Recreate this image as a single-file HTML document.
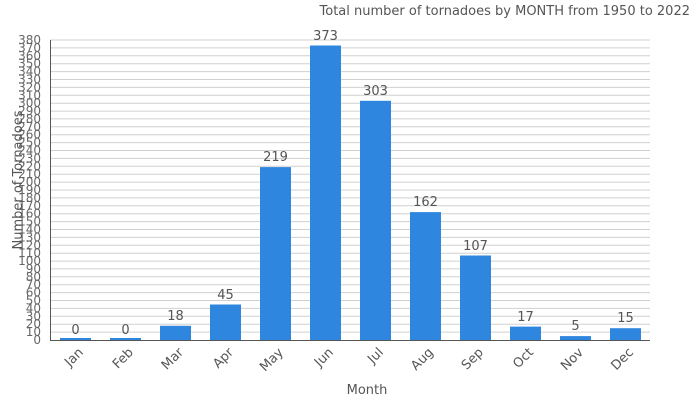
<!DOCTYPE html>
<html><head><meta charset="utf-8"><style>
html,body{margin:0;padding:0;background:#fff;}
svg{display:block;font-family:"DejaVu Sans","Liberation Sans",sans-serif;}
</style></head><body>
<svg width="700" height="400" viewBox="0 0 700 400" xmlns="http://www.w3.org/2000/svg">
<text x="690" y="15" text-anchor="end" font-size="13" fill="#555">Total number of tornadoes by MONTH from 1950 to 2022</text>
<g stroke="#d0d0d0" stroke-width="1">
<line x1="50" x2="650" y1="332.1" y2="332.1"/><line x1="50" x2="650" y1="324.2" y2="324.2"/><line x1="50" x2="650" y1="316.3" y2="316.3"/><line x1="50" x2="650" y1="308.4" y2="308.4"/><line x1="50" x2="650" y1="300.5" y2="300.5"/><line x1="50" x2="650" y1="292.6" y2="292.6"/><line x1="50" x2="650" y1="284.7" y2="284.7"/><line x1="50" x2="650" y1="276.8" y2="276.8"/><line x1="50" x2="650" y1="268.9" y2="268.9"/><line x1="50" x2="650" y1="261.1" y2="261.1"/><line x1="50" x2="650" y1="253.2" y2="253.2"/><line x1="50" x2="650" y1="245.3" y2="245.3"/><line x1="50" x2="650" y1="237.4" y2="237.4"/><line x1="50" x2="650" y1="229.5" y2="229.5"/><line x1="50" x2="650" y1="221.6" y2="221.6"/><line x1="50" x2="650" y1="213.7" y2="213.7"/><line x1="50" x2="650" y1="205.8" y2="205.8"/><line x1="50" x2="650" y1="197.9" y2="197.9"/><line x1="50" x2="650" y1="190" y2="190"/><line x1="50" x2="650" y1="182.1" y2="182.1"/><line x1="50" x2="650" y1="174.2" y2="174.2"/><line x1="50" x2="650" y1="166.3" y2="166.3"/><line x1="50" x2="650" y1="158.4" y2="158.4"/><line x1="50" x2="650" y1="150.5" y2="150.5"/><line x1="50" x2="650" y1="142.6" y2="142.6"/><line x1="50" x2="650" y1="134.7" y2="134.7"/><line x1="50" x2="650" y1="126.8" y2="126.8"/><line x1="50" x2="650" y1="118.9" y2="118.9"/><line x1="50" x2="650" y1="111.1" y2="111.1"/><line x1="50" x2="650" y1="103.2" y2="103.2"/><line x1="50" x2="650" y1="95.3" y2="95.3"/><line x1="50" x2="650" y1="87.4" y2="87.4"/><line x1="50" x2="650" y1="79.5" y2="79.5"/><line x1="50" x2="650" y1="71.6" y2="71.6"/><line x1="50" x2="650" y1="63.7" y2="63.7"/><line x1="50" x2="650" y1="55.8" y2="55.8"/><line x1="50" x2="650" y1="47.9" y2="47.9"/><line x1="50" x2="650" y1="40" y2="40"/>
</g>
<g font-size="12" fill="#666" text-anchor="end">
<text x="41" y="344">0</text><text x="41" y="336.1">10</text><text x="41" y="328.2">20</text><text x="41" y="320.3">30</text><text x="41" y="312.4">40</text><text x="41" y="304.5">50</text><text x="41" y="296.6">60</text><text x="41" y="288.7">70</text><text x="41" y="280.8">80</text><text x="41" y="272.9">90</text><text x="41" y="265.1">100</text><text x="41" y="257.2">110</text><text x="41" y="249.3">120</text><text x="41" y="241.4">130</text><text x="41" y="233.5">140</text><text x="41" y="225.6">150</text><text x="41" y="217.7">160</text><text x="41" y="209.8">170</text><text x="41" y="201.9">180</text><text x="41" y="194">190</text><text x="41" y="186.1">200</text><text x="41" y="178.2">210</text><text x="41" y="170.3">220</text><text x="41" y="162.4">230</text><text x="41" y="154.5">240</text><text x="41" y="146.6">250</text><text x="41" y="138.7">260</text><text x="41" y="130.8">270</text><text x="41" y="122.9">280</text><text x="41" y="115.1">290</text><text x="41" y="107.2">300</text><text x="41" y="99.3">310</text><text x="41" y="91.4">320</text><text x="41" y="83.5">330</text><text x="41" y="75.6">340</text><text x="41" y="67.7">350</text><text x="41" y="59.8">360</text><text x="41" y="51.9">370</text><text x="41" y="44">380</text>
</g>
<text transform="translate(22,180) rotate(-90)" text-anchor="middle" font-size="13" fill="#555">Number of Tornadoes</text>
<g fill="#2e86de">
<rect x="60" y="338" width="31" height="2"/><rect x="110" y="338" width="31" height="2"/><rect x="160" y="325.8" width="31" height="14.2"/><rect x="210" y="304.5" width="31" height="35.5"/><rect x="260" y="167.1" width="31" height="172.9"/><rect x="310" y="45.5" width="31" height="294.5"/><rect x="360" y="100.8" width="31" height="239.2"/><rect x="410" y="212.1" width="31" height="127.9"/><rect x="460" y="255.5" width="31" height="84.5"/><rect x="510" y="326.6" width="31" height="13.4"/><rect x="560" y="336.1" width="31" height="3.9"/><rect x="610" y="328.2" width="31" height="11.8"/>
</g>
<g font-size="13" fill="#555" text-anchor="middle">
<text x="75.5" y="334">0</text><text x="125.5" y="334">0</text><text x="175.5" y="320">18</text><text x="225.5" y="299">45</text><text x="275.5" y="161">219</text><text x="325.5" y="40">373</text><text x="375.5" y="95">303</text><text x="425.5" y="206">162</text><text x="475.5" y="250">107</text><text x="525.5" y="321">17</text><text x="575.5" y="330">5</text><text x="625.5" y="322">15</text>
</g>
<line x1="50.5" y1="40" x2="50.5" y2="340.5" stroke="#555" stroke-width="1"/>
<line x1="50" y1="340.5" x2="650" y1="340.5" y2="340.5" stroke="#555" stroke-width="1"/>
<g font-size="13" fill="#555" text-anchor="end">
<text transform="translate(84,353) rotate(-45)">Jan</text><text transform="translate(134,353) rotate(-45)">Feb</text><text transform="translate(184,353) rotate(-45)">Mar</text><text transform="translate(234,353) rotate(-45)">Apr</text><text transform="translate(284,353) rotate(-45)">May</text><text transform="translate(334,353) rotate(-45)">Jun</text><text transform="translate(384,353) rotate(-45)">Jul</text><text transform="translate(434,353) rotate(-45)">Aug</text><text transform="translate(484,353) rotate(-45)">Sep</text><text transform="translate(534,353) rotate(-45)">Oct</text><text transform="translate(584,353) rotate(-45)">Nov</text><text transform="translate(634,353) rotate(-45)">Dec</text>
</g>
<text x="367" y="394" text-anchor="middle" font-size="13" fill="#555">Month</text>
</svg>
</body></html>
